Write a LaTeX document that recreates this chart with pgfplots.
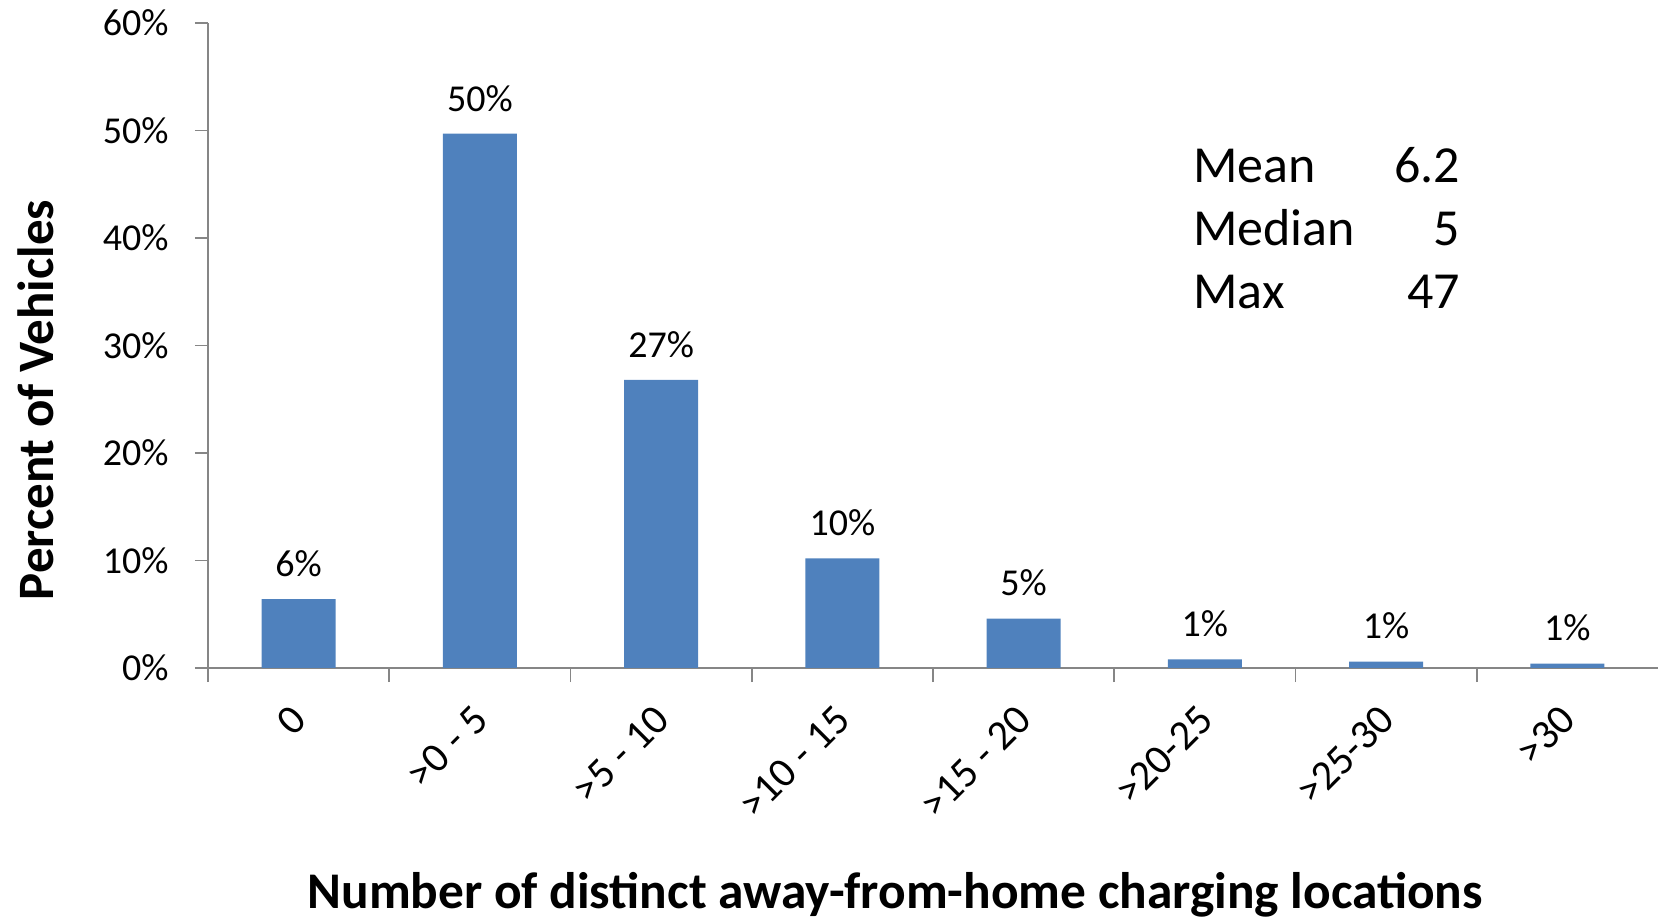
\documentclass[border=0pt]{standalone}
\usepackage{fontspec}
\setmainfont{Carlito}
\usepackage{pgfplots}
\pgfplotsset{compat=1.18}
\usepackage{pgfplotstable}
\definecolor{barblue}{RGB}{79,129,189}
\definecolor{axgray}{RGB}{134,134,134}
\pgfplotstableread{
x y lbl
0 6.4 6
1 49.7 50
2 26.8 27
3 10.2 10
4 4.6 5
5 0.8 1
6 0.6 1
7 0.4 1
}\datatable
\begin{document}
\begin{tikzpicture}
\begin{axis}[
  scale only axis, width=725pt, height=322.5pt,
  xmin=-0.5, xmax=7.5, ymin=0, ymax=60,
  axis lines*=left,
  axis line style={axgray, line width=0.9pt},
  tick align=outside,
  xtick={0,...,7},
  xticklabels={0,{>0 - 5},{>5 - 10},{>10 - 15},{>15 - 20},{>20-25},{>25-30},{>30}},
  minor xtick={-0.5,0.5,...,6.5},
  every major x tick/.style={draw=none},
  every minor x tick/.style={axgray, line width=0.9pt},
  minor tick length=7pt,
  ytick={0,10,...,60},
  major tick length=6.5pt,
  ytick style={axgray, line width=0.9pt},
  yticklabel={\pgfmathprintnumber{\tick}\%},
  yticklabel style={font=\fontsize{19}{22}\selectfont, anchor=east, inner sep=0pt, xshift=-13pt, /pgf/number format/assume math mode=true},
  xticklabel style={font=\fontsize{21}{24}\selectfont, inner sep=0pt, xshift=-4.5pt, yshift=-11pt, rotate=45, anchor=north east},
  xlabel={Number of distinct away-from-home charging locations},
  xlabel style={font=\bfseries\fontsize{25.7}{30}\selectfont, at={(axis description cs:0.474,-0.352)}, anchor=center},
  ylabel={Percent of Vehicles},
  ylabel style={font=\bfseries\fontsize{25.5}{30}\selectfont, at={(axis description cs:-0.119,0.4155)}, anchor=center},
  clip=false,
]
\addplot[ybar, bar width=37pt, fill=barblue, draw=none,
  point meta=explicit symbolic,
  nodes near coords={\pgfplotspointmeta\%},
  every node near coord/.append style={font=\fontsize{19}{22}\selectfont, inner sep=0pt, anchor=south, yshift=11pt, black}]
  table[x=x, y=y, meta=lbl]{\datatable};
\node[anchor=base west, inner sep=0pt, font=\fontsize{26}{31.7}\selectfont] at (axis cs:4.934,45.2)
  {\begin{tabular}[t]{@{}l@{\hspace{19.5pt}}r@{}}
   Mean & 6.2\\
   Median & 5\\
   Max & 47
   \end{tabular}};
\end{axis}
\pgfresetboundingbox
\path[use as bounding box] (-104pt,-125.5pt) rectangle (725pt,334pt);
\end{tikzpicture}
\end{document}
